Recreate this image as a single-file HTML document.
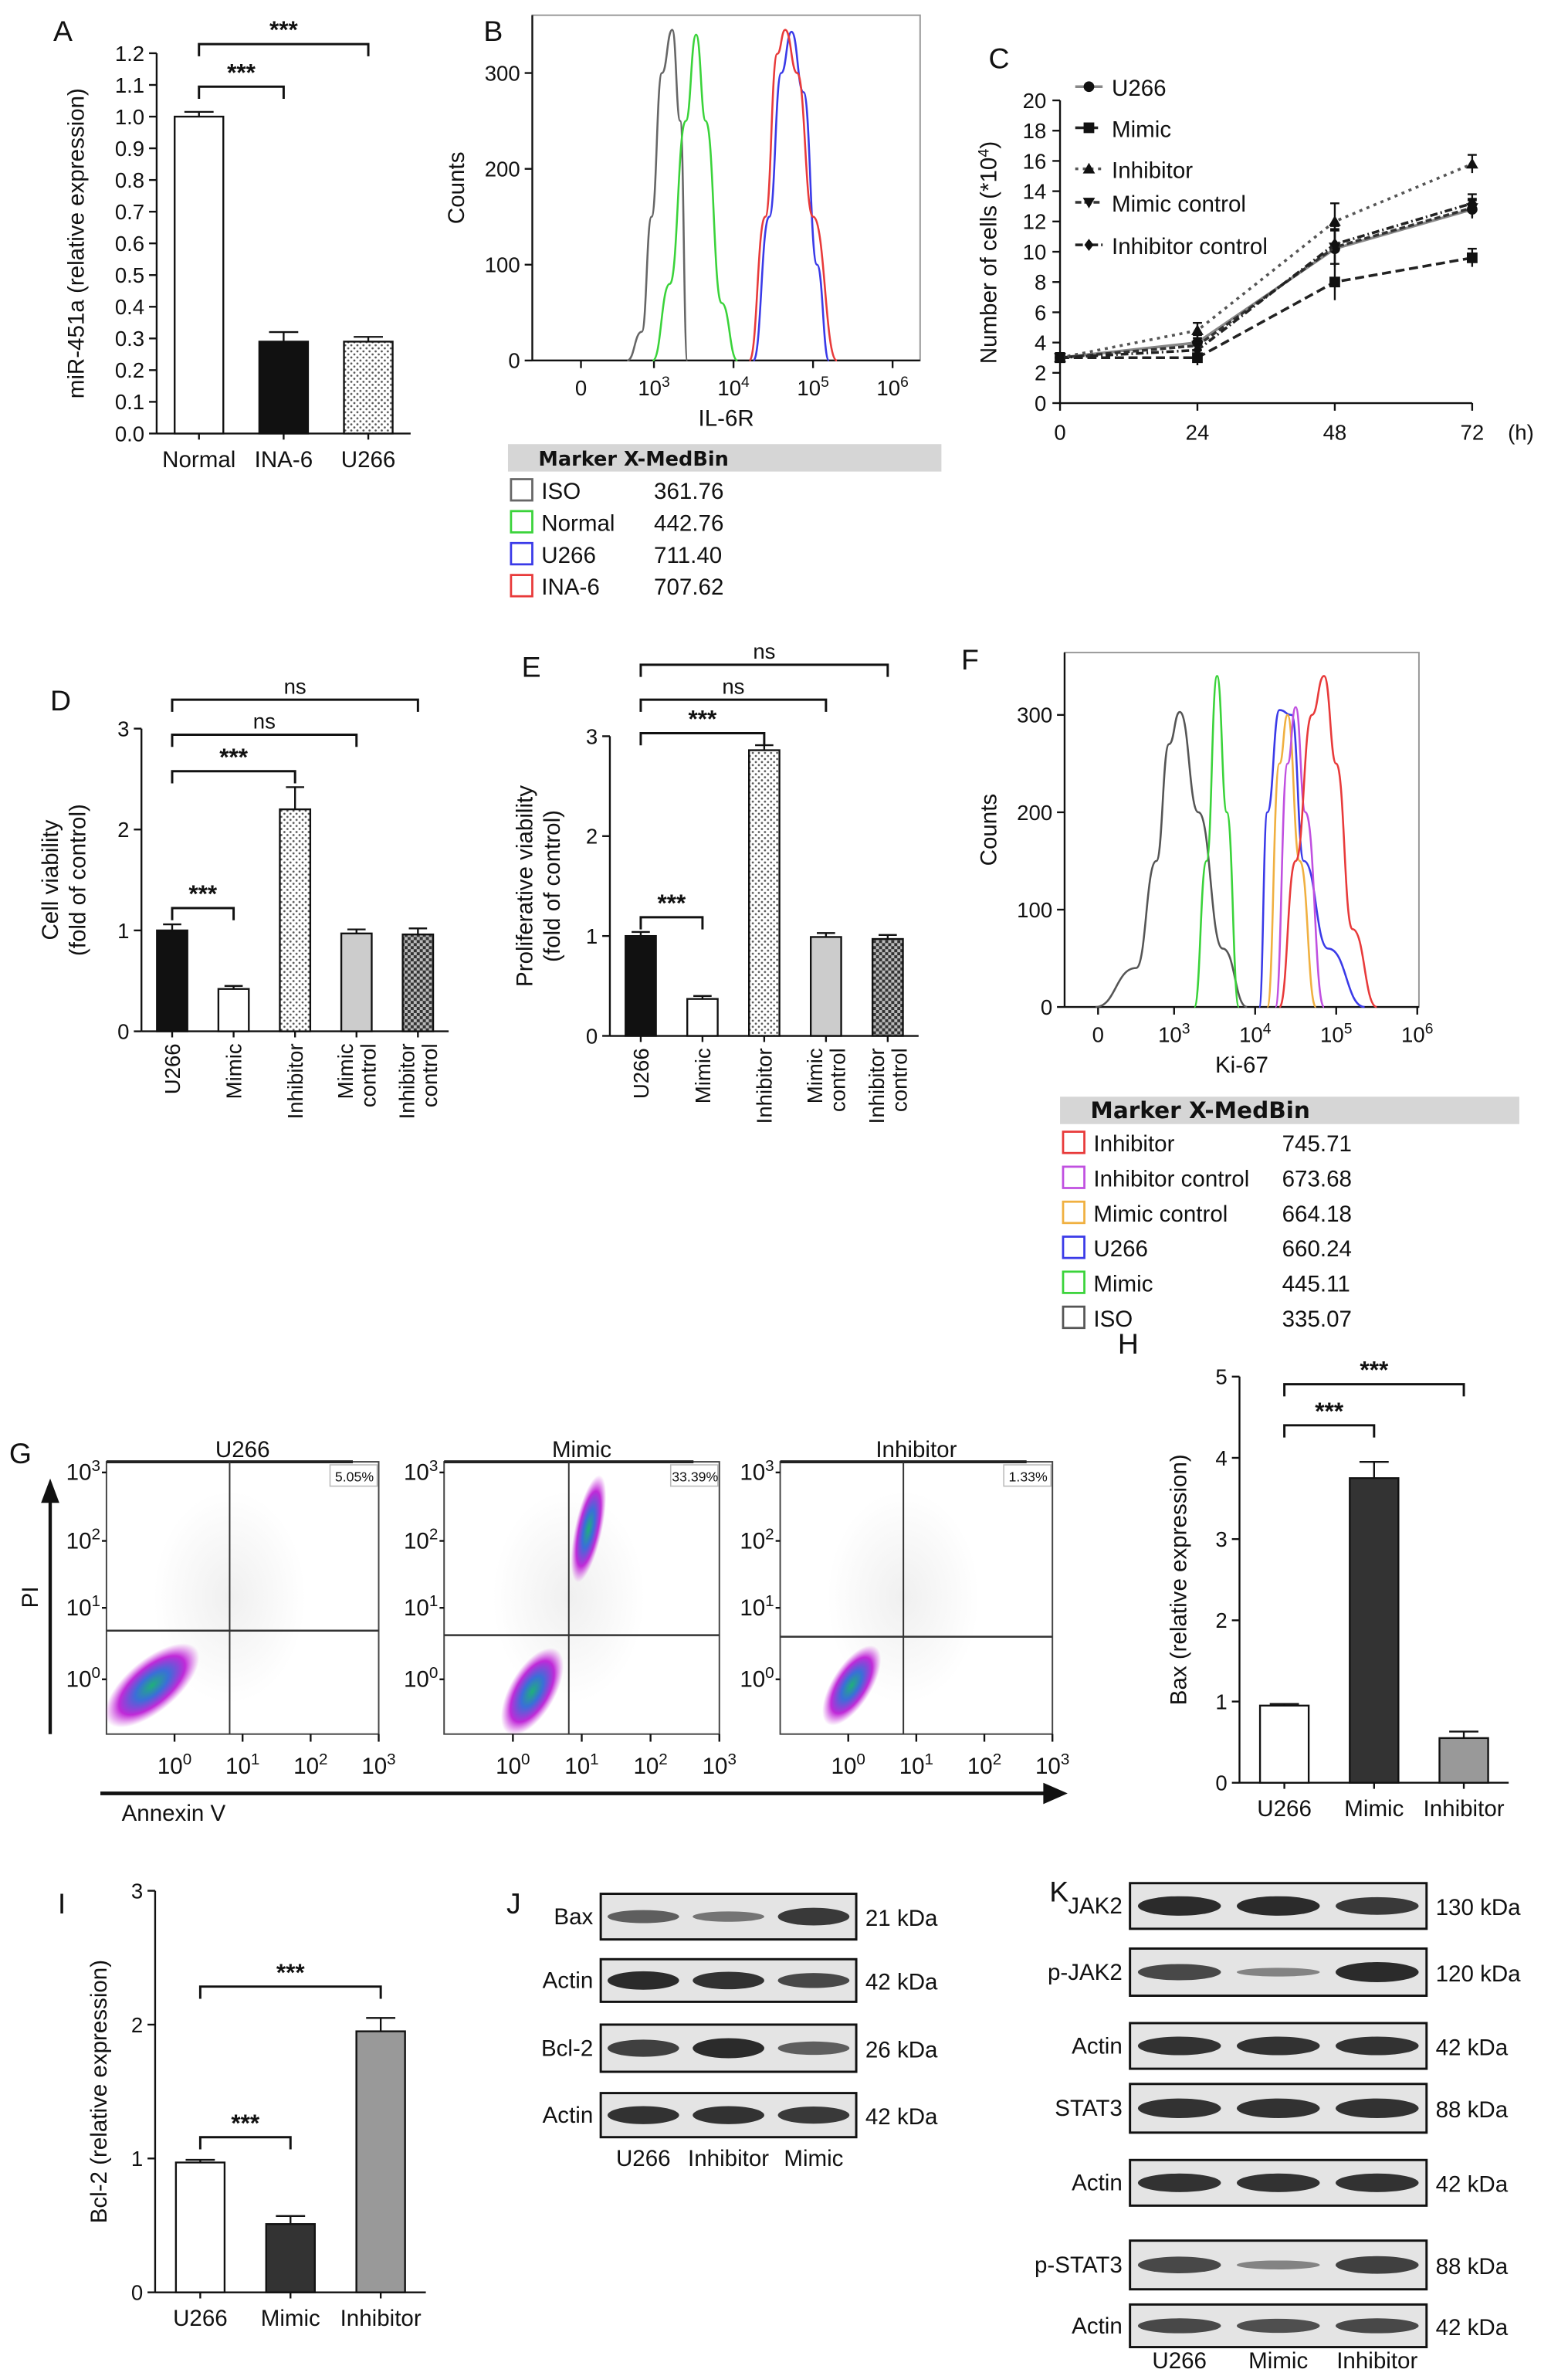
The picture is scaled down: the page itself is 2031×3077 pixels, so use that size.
<!DOCTYPE html>
<html><head><meta charset="utf-8">
<style>
html,body{margin:0;padding:0;background:#fff;}
svg{display:block;font-family:"Liberation Sans",Arial,sans-serif;}
</style></head>
<body>
<svg id="fig" width="2031" height="3077" viewBox="0 0 1031 1562" xmlns="http://www.w3.org/2000/svg">
<defs>
<pattern id="dots" width="4" height="4" patternUnits="userSpaceOnUse"><rect width="4" height="4" fill="#fff"/><circle cx="1" cy="1" r="0.7" fill="#555"/><circle cx="3" cy="3" r="0.7" fill="#555"/></pattern>
<pattern id="check" width="4" height="4" patternUnits="userSpaceOnUse"><rect width="4" height="4" fill="#bbb"/><rect width="2" height="2" fill="#333"/><rect x="2" y="2" width="2" height="2" fill="#333"/></pattern>
<radialGradient id="blob"><stop offset="0" stop-color="#1fb07a"/><stop offset="0.35" stop-color="#3a6fd8"/><stop offset="0.7" stop-color="#c02ad8"/><stop offset="1" stop-color="#d050e0" stop-opacity="0"/></radialGradient>
<radialGradient id="haze"><stop offset="0" stop-color="#999" stop-opacity="0.15"/><stop offset="1" stop-color="#999" stop-opacity="0"/></radialGradient>
</defs>
</svg>
<script>
// ---------- DATA ----------
const catsA=['Normal','INA-6','U266'];
const valsA=[1.0,0.29,0.29];
const errsA=[0.015,0.03,0.015];
const ticksA=[0,0.1,0.2,0.3,0.4,0.5,0.6,0.7,0.8,0.9,1.0,1.1,1.2];

const catsD=['U266','Mimic','Inhibitor','Mimic control','Inhibitor control'];
const valsD=[1.0,0.42,2.2,0.97,0.96];
const errsD=[0.06,0.03,0.22,0.04,0.06];
const valsE=[1.0,0.37,2.86,0.99,0.97];
const errsE=[0.04,0.03,0.05,0.04,0.04];
const ticks3=[0,1,2,3];

const catsH=['U266','Mimic','Inhibitor'];
const valsH=[0.95,3.75,0.55];
const errsH=[0.02,0.2,0.08];
const ticksH=[0,1,2,3,4,5];
const valsI=[0.97,0.51,1.95];
const errsI=[0.02,0.06,0.1];

const timeC=[0,24,48,72];
const namesC=['U266','Mimic','Inhibitor','Mimic control','Inhibitor control'];
const u266C=[3,4,10.2,12.8];
const mimicC=[3,3,8,9.6];
const inhibC=[3,4.8,12,15.8];
const mimicCtrlC=[3,3.8,10.3,12.9];
const inhibCtrlC=[3,3.5,10.5,13.2];
const errC=[0.3,0.5,1.2,0.6];
const ticksCy=[0,2,4,6,8,10,12,14,16,18,20];

const histBnames=['ISO','Normal','U266','INA-6'];
const histBvals=['361.76','442.76','711.40','707.62'];
const isoB=[[1.9,0],[2.5,30],[2.9,150],[3.1,300],[3.23,345],[3.33,250],[3.42,0]];
const normalB=[[2.95,0],[3.2,80],[3.4,250],[3.53,340],[3.65,250],[3.85,60],[4.05,0]];
const u266B=[[4.25,0],[4.45,150],[4.6,300],[4.73,343],[4.88,280],[5.05,100],[5.2,0]];
const ina6B=[[4.2,0],[4.4,150],[4.55,320],[4.65,345],[4.8,300],[5.0,150],[5.3,0]];

const histFvals=['745.71','673.68','664.18','660.24','445.11','335.07'];
const isoF=[[-0.1,0],[1.5,40],[2.3,150],[2.8,270],[3.07,303],[3.3,200],[3.6,60],[3.9,0]];
const mimicF=[[3.25,0],[3.4,150],[3.53,340],[3.65,200],[3.8,0]];
const u266F=[[4.05,0],[4.15,200],[4.3,305],[4.45,300],[4.6,150],[4.9,60],[5.35,0]];
const mimicCtrlF=[[4.15,0],[4.3,250],[4.4,300],[4.55,150],[4.75,0]];
const inhibCtrlF=[[4.25,0],[4.4,250],[4.5,308],[4.62,200],[4.85,0]];
const inhibF=[[4.3,0],[4.5,150],[4.7,300],[4.85,340],[5.0,250],[5.2,80],[5.5,0]];

const scatterTitles=['U266','Mimic','Inhibitor'];
const scatterPct=['5.05%','33.39%','1.33%'];

const blotJrows=['Bax','Actin','Bcl-2','Actin'];
const blotJkda=['21 kDa','42 kDa','26 kDa','42 kDa'];
const blotJlanes=['U266','Inhibitor','Mimic'];
const blotJint=[[0.55,0.4,0.8],[0.9,0.85,0.7],[0.75,0.9,0.55],[0.85,0.85,0.8]];
const blotKrows=['JAK2','p-JAK2','Actin','STAT3','Actin','p-STAT3','Actin'];
const blotKkda=['130 kDa','120 kDa','42 kDa','88 kDa','42 kDa','88 kDa','42 kDa'];
const blotKlanes=['U266','Mimic','Inhibitor'];
const blotKint=[[0.9,0.9,0.8],[0.7,0.3,0.9],[0.85,0.85,0.85],[0.85,0.85,0.85],[0.85,0.85,0.85],[0.7,0.3,0.75],[0.7,0.65,0.7]];

// ---------- HELPERS ----------
const NS='http://www.w3.org/2000/svg';
const svg=document.getElementById('fig');
function mk(tag,name,parent){
  const e=document.createElementNS(NS,tag);
  
  
  (parent||svg).appendChild(e);
  return e;
}
function set(e,o){for(const k in o)e.setAttribute(k,o[k]);return e;}
function txt(name,x,y,s,size,anchor,parent,extra){
  const t=mk('text',name,parent);
  set(t,{x:x,y:y,'font-size':size||14,'text-anchor':anchor||'middle',fill:'#111'});
  if(extra)set(t,extra);
  t.textContent=s;return t;
}
function line(name,x1,y1,x2,y2,parent,stroke,w,dash){
  const l=mk('line',name,parent);
  set(l,{x1:x1,y1:y1,x2:x2,y2:y2,stroke:stroke||'#111','stroke-width':w||1.2});
  if(dash)l.setAttribute('stroke-dasharray',dash);
  return l;
}
function sup(name,x,y,base,exp,size,anchor,parent){
  const t=mk('text',name,parent);
  set(t,{x:x,y:y,'font-size':size,'text-anchor':anchor||'middle',fill:'#111'});
  const a=document.createElementNS(NS,'tspan');a.textContent=base;t.appendChild(a);
  const b=document.createElementNS(NS,'tspan');set(b,{dy:-size*0.4,'font-size':size*0.7});b.textContent=exp;t.appendChild(b);
  return t;
}
function linScale(d0,d1,r0,r1){return v=>r0+(v-d0)/(d1-d0)*(r1-r0);}
function bandCenters(n,x0,x1){const s=(x1-x0)/n;return i=>x0+s*(i+0.5);}

function barChart(c){
  const g=mk('g',c.name);
  const y=linScale(0,c.ymax,c.yb,c.yt);
  const bx=bandCenters(c.cats.length,c.x0,c.x1);
  line('y-axis',c.x0,c.yb,c.x0,y(c.ymax),g);
  line('x-axis',c.x0,c.yb,c.x1,c.yb,g);
  c.ticks.forEach(t=>{
    line('y-tick',c.x0-5,y(t),c.x0,y(t),g);
    txt('y-tick-label',c.x0-8,y(t)+5,c.tickFmt?c.tickFmt(t):String(t),14,'end',g);
  });
  c.vals.forEach((v,i)=>{
    const cx=bx(i);
    const r=mk('rect','bar-'+c.cats[i].toLowerCase().replace(/\s+/g,'-'),g);
    set(r,{x:cx-c.bw/2,y:y(v),width:c.bw,height:c.yb-y(v),fill:c.fills[i],stroke:'#111','stroke-width':1.2});
    const e=c.errs[i];
    line('error-bar',cx,y(v),cx,y(v+e),g);
    line('error-cap',cx-c.bw*0.3,y(v+e),cx+c.bw*0.3,y(v+e),g);
    line('x-tick',cx,c.yb,cx,c.yb+4,g);
    if(c.rot){
      const parts=c.cats[i].split(' ');
      parts.forEach((p,k)=>{
        const off=(k-(parts.length-1)/2)*15;
        txt('x-tick-label',cx+off+5,c.yb+8,p,14,'end',g,{transform:'rotate(-90 '+(cx+off+5)+' '+(c.yb+8)+')'});
      });
    } else txt('x-tick-label',cx,c.yb+22,c.cats[i],15,'middle',g);
  });
  const ly=(c.yb+y(c.ymax))/2;
  c.ylabel.forEach((s,k)=>{
    const lx=c.lx+k*18;
    txt('y-axis-title',lx,ly,s,15,'middle',g,{transform:'rotate(-90 '+lx+' '+ly+')'});
  });
  (c.sig||[]).forEach(sg=>{
    const a=bx(sg[0]),b=bx(sg[1]),yy=sg[2];
    const p=mk('path','significance-bracket',g);
    set(p,{d:'M'+a+' '+(yy+8)+'V'+yy+'H'+b+'V'+(yy+8),fill:'none',stroke:'#111','stroke-width':1.5});
    txt('significance-label',(a+b)/2,yy-4,sg[3],sg[3]==='ns'?14:16,'middle',g,{'font-weight':sg[3]==='ns'?'normal':'bold'});
  });
  txt('panel-label',c.px,c.py,c.panel,19,'start',g);
}

barChart({name:'panel-a',panel:'A',px:35,py:27,x0:103,x1:270,yb:285,yt:35,ymax:1.2,ticks:ticksA,tickFmt:t=>t.toFixed(1),
  cats:catsA,vals:valsA,errs:errsA,bw:32,fills:['#fff','#111','url(#dots)'],ylabel:['miR-451a (relative expression)'],lx:55,
  sig:[[0,1,57,'***'],[0,2,29,'***']]});
barChart({name:'panel-d',panel:'D',px:33,py:467,x0:93,x1:295,yb:678,yt:479,ymax:3,ticks:ticks3,cats:catsD,vals:valsD,errs:errsD,bw:20,
  fills:['#111','#fff','url(#dots)','#ccc','url(#check)'],rot:true,ylabel:['Cell viability','(fold of control)'],lx:38,
  sig:[[0,1,597,'***'],[0,2,507,'***'],[0,3,483,'ns'],[0,4,460,'ns']]});
barChart({name:'panel-e',panel:'E',px:343,py:445,x0:401,x1:604,yb:681,yt:484,ymax:3,ticks:ticks3,cats:catsD,vals:valsE,errs:errsE,bw:20,
  fills:['#111','#fff','url(#dots)','#ccc','url(#check)'],rot:true,ylabel:['Proliferative viability','(fold of control)'],lx:350,
  sig:[[0,1,603,'***'],[0,2,482,'***'],[0,3,460,'ns'],[0,4,437,'ns']]});
barChart({name:'panel-h',panel:'H',px:735,py:890,x0:815,x1:992,yb:1172,yt:905,ymax:5,ticks:ticksH,cats:catsH,vals:valsH,errs:errsH,bw:32,
  fills:['#fff','#333','#999'],ylabel:['Bax (relative expression)'],lx:780,
  sig:[[0,1,937,'***'],[0,2,910,'***']]});
barChart({name:'panel-i',panel:'I',px:38,py:1258,x0:102,x1:280,yb:1507,yt:1243,ymax:3,ticks:ticks3,cats:catsH,vals:valsI,errs:errsI,bw:32,
  fills:['#fff','#333','#999'],ylabel:['Bcl-2 (relative expression)'],lx:70,
  sig:[[0,1,1405,'***'],[0,2,1306,'***']]});

// ---------- C ----------
(function(){
  const g=mk('g','panel-c');
  const x=linScale(0,72,697,968), y=linScale(0,20,265,66);
  line('y-axis',697,265,697,66,g);line('x-axis',697,265,968,265,g);
  ticksCy.forEach(t=>{line('y-tick',692,y(t),697,y(t),g);txt('y-tick-label',688,y(t)+5,String(t),14,'end',g);});
  timeC.forEach(t=>{line('x-tick',x(t),265,x(t),270,g);txt('x-tick-label',x(t),289,String(t),14,'middle',g);});
  txt('x-unit',1000,289,'(h)',14,'middle',g);
  const ly=166;
  const yt=txt('y-axis-title',655,ly,'Number of cells (*10',15,'middle',g,{transform:'rotate(-90 655 '+ly+')'});
  const s1=document.createElementNS(NS,'tspan');set(s1,{dy:-5,'font-size':10});s1.textContent='4';yt.appendChild(s1);
  const s2=document.createElementNS(NS,'tspan');set(s2,{dy:5});s2.textContent=')';yt.appendChild(s2);
  txt('panel-label',650,45,'C',19,'start',g);
  const series=[u266C,mimicC,inhibC,mimicCtrlC,inhibCtrlC];
  const dashes=['', '6 3','2 3','4 2','5 2 1 2'];
  const cols=['#888','#222','#555','#333','#222'];
  const markers=['circle','square','triUp','triDown','diamond'];
  function marker(kind,cx,cy,par,name){
    let m;
    if(kind==='circle'){m=mk('circle',name,par);set(m,{cx:cx,cy:cy,r:3.5});}
    else if(kind==='square'){m=mk('rect',name,par);set(m,{x:cx-3.5,y:cy-3.5,width:7,height:7});}
    else{m=mk('polygon',name,par);
      const pts=kind==='triUp'?[[0,-4],[4,3],[-4,3]]:kind==='triDown'?[[0,4],[4,-3],[-4,-3]]:[[0,-4],[3,0],[0,4],[-3,0]];
      m.setAttribute('points',pts.map(p=>(cx+p[0])+','+(cy+p[1])).join(' '));}
    m.setAttribute('fill','#111');return m;
  }
  series.forEach((s,i)=>{
    const p=mk('polyline','line-'+namesC[i].toLowerCase().replace(/\s+/g,'-'),g);
    set(p,{points:s.map((v,j)=>x(timeC[j])+','+y(v)).join(' '),fill:'none',stroke:cols[i],'stroke-width':1.8});
    if(dashes[i])p.setAttribute('stroke-dasharray',dashes[i]);
    s.forEach((v,j)=>{
      line('error-bar',x(timeC[j]),y(v-errC[j]),x(timeC[j]),y(v+errC[j]),g,'#111',1.2);
      line('error-cap',x(timeC[j])-3,y(v+errC[j]),x(timeC[j])+3,y(v+errC[j]),g,'#111',1.2);
      marker(markers[i],x(timeC[j]),y(v),g,'point');
    });
    const ly2=[57,84,111,133,161][i];
    line('legend-line',707,ly2,725,ly2,g,cols[i],1.8,dashes[i]||null);
    marker(markers[i],716,ly2,g,'legend-marker');
    txt('legend-entry',731,ly2+6,namesC[i],15,'start',g);
  });
})();

// ---------- Histograms ----------
function histo(c){
  const g=mk('g',c.name);
  const xs=d=>d<=3?c.xz+(d/3)*(c.x3-c.xz):c.x3+(d-3)*c.dec;
  const y=linScale(0,300,c.yb,c.y300);
  const fr=mk('rect','plot-frame',g);set(fr,{x:c.fx0,y:c.fy0,width:c.fx1-c.fx0,height:c.yb-c.fy0,fill:'none',stroke:'#999','stroke-width':1});
  line('x-axis',c.fx0,c.yb,c.fx1,c.yb,g);line('y-axis',c.fx0,c.yb,c.fx0,c.fy0,g);
  [0,100,200,300].forEach(t=>{line('y-tick',c.fx0-5,y(t),c.fx0,y(t),g);txt('y-tick-label',c.fx0-8,y(t)+5,String(t),14,'end',g);});
  [0,3,4,5,6].forEach(d=>{line('x-tick',xs(d),c.yb,xs(d),c.yb+5,g);
    if(d===0)txt('x-tick-label',xs(d),c.yb+23,'0',14,'middle',g);else sup('x-tick-label',xs(d),c.yb+23,'10',String(d),14,'middle',g);});
  txt('x-axis-title',(c.fx0+c.fx1)/2,c.yb+43,c.xlabel,15,'middle',g);
  const ly=(c.yb+c.fy0)/2;
  txt('y-axis-title',c.fx0-45,ly,'Counts',15,'middle',g,{transform:'rotate(-90 '+(c.fx0-45)+' '+ly+')'});
  c.curves.forEach((cv,i)=>{
    const pts=cv.map(p=>[xs(p[0]),y(p[1])]);
    let d='M'+pts[0][0]+' '+pts[0][1];
    for(let k=1;k<pts.length;k++){const a=pts[k-1],b=pts[k],mx=(a[0]+b[0])/2;d+=' C'+mx+' '+a[1]+' '+mx+' '+b[1]+' '+b[0]+' '+b[1];}
    const p=mk('path','histogram-'+c.names[i].toLowerCase().replace(/\s+/g,'-'),g);
    set(p,{d:d,fill:'none',stroke:c.colors[i],'stroke-width':1.3});
  });
  const hd=mk('rect','legend-header',g);set(hd,{x:c.lx,y:c.ly,width:c.lw,height:18,fill:'#d6d6d6'});
  txt('legend-title',c.lx+20,c.ly+14,'Marker X-MedBin',c.hsize,'start',g,{'font-weight':'bold','font-family':'DejaVu Sans, sans-serif'});
  c.names.forEach((n,i)=>{
    const idx=c.order[i];
    const yy=c.ly+20+i*c.lstep;
    const b=mk('rect','legend-swatch',g);set(b,{x:c.lx+2,y:yy+3,width:14,height:14,fill:'none',stroke:c.colors[idx],'stroke-width':1.4});
    txt('legend-entry',c.lx+22,yy+16,c.names[idx],15,'start',g);
    txt('legend-value',c.lx+c.vx,yy+16,c.vals[i],15,'start',g);
  });
  txt('panel-label',c.px,c.py,c.panel,19,'start',g);
}
histo({name:'panel-b',panel:'B',px:318,py:27,xz:382,x3:430,dec:52.3,yb:237,y300:48,fx0:350,fx1:605,fy0:10,xlabel:'IL-6R',
  curves:[isoB,normalB,u266B,ina6B],names:histBnames,colors:['#666','#3ad33a','#3a3ae8','#e83a3a'],order:[0,1,2,3],vals:histBvals,
  lx:334,ly:292,lw:285,lstep:21,vx:96,hsize:13});
histo({name:'panel-f',panel:'F',px:632,py:440,xz:722,x3:772,dec:53.3,yb:662,y300:470,fx0:700,fx1:933,fy0:429,xlabel:'Ki-67',
  curves:[isoF,mimicF,u266F,mimicCtrlF,inhibCtrlF,inhibF],names:['ISO','Mimic','U266','Mimic control','Inhibitor control','Inhibitor'],
  colors:['#555','#3ad33a','#3a3ae8','#f0b040','#c050e0','#e83a3a'],order:[5,4,3,2,1,0],vals:histFvals,
  lx:697,ly:721,lw:302,lstep:23,vx:146,hsize:15});

// ---------- G scatter ----------
(function(){
  const g=mk('g','panel-g');
  txt('panel-label',6,962,'G',19,'start',g);
  const boxes=[[70,249,151,1072],[292,473,374,1075],[513,692,594,1076]];
  const yTickY=[1104,1057,1013,968];
  boxes.forEach((b,i)=>{
    const sg=mk('g','scatter-plot-'+scatterTitles[i].toLowerCase(),g);
    const x=linScale(0,3,b[0]+(b[1]-b[0])*0.25,b[1]);
    const r=mk('rect','plot-frame',sg);set(r,{x:b[0],y:961,width:b[1]-b[0],height:179,fill:'#fff',stroke:'#444','stroke-width':1});
    line('top-border',b[0],961,b[1]-17,961,sg,'#222',2);
    txt('plot-title',(b[0]+b[1])/2,958,scatterTitles[i],15,'middle',sg);
    const pb=mk('rect','quadrant-percent-box',sg);set(pb,{x:b[1]-32,y:963,width:31,height:14,fill:'#fff',stroke:'#bbb','stroke-width':0.8});
    txt('quadrant-percent',b[1]-16,974,scatterPct[i],9,'middle',sg);
    const hz=mk('ellipse','background-events',sg);set(hz,{cx:b[2],cy:1050,rx:50,ry:70,fill:'url(#haze)'});
    const bl=i===0?[[100,1108,38,17,-40]]:i===1?[[350,1112,32,15,-60],[387,1005,36,9,-78]]:[[560,1108,30,13,-58]];
    bl.forEach(e=>{const el=mk('ellipse','cell-population',sg);set(el,{cx:e[0],cy:e[1],rx:e[2],ry:e[3],fill:'url(#blob)',transform:'rotate('+e[4]+' '+e[0]+' '+e[1]+')'});});
    line('quadrant-vertical',b[2],961,b[2],1140,sg,'#333',1);
    line('quadrant-horizontal',b[0],b[3],b[1],b[3],sg,'#333',1.3);
    [0,1,2,3].forEach(d=>{
      sup('x-tick-label',x(d),1166,'10',String(d),15,'middle',sg);
      line('x-tick',x(d),1140,x(d),1145,sg);
      sup('y-tick-label',b[0]-4,yTickY[d]+5,'10',String(d),15,'end',sg);
      line('y-tick',b[0]-3,yTickY[d],b[0],yTickY[d],sg);
    });
  });
  line('pi-arrow',33,1140,33,985,g,'#111',2.2);
  const ah=mk('polygon','pi-arrowhead',g);set(ah,{points:'27,988 33,972 39,988',fill:'#111'});
  txt('y-axis-title',25,1050,'PI',15,'middle',g,{transform:'rotate(-90 25 1050)'});
  line('annexin-arrow',66,1179,690,1179,g,'#111',2.4);
  const ah2=mk('polygon','annexin-arrowhead',g);set(ah2,{points:'686,1172 702,1179 686,1186',fill:'#111'});
  txt('x-axis-title',80,1197,'Annexin V',15,'start',g);
})();

// ---------- Blots ----------
function blot(c){
  const g=mk('g',c.name);
  txt('panel-label',c.px,c.py,c.panel,19,'start',g);
  c.rows.forEach((r,i)=>{
    const y0=c.rowY[i],h=c.rowH[i];
    const bx=mk('rect','blot-box-'+r.toLowerCase(),g);set(bx,{x:c.x0,y:y0,width:c.x1-c.x0,height:h,fill:'#e4e4e4',stroke:'#111','stroke-width':1.5});
    txt('blot-label',c.x0-5,y0+h/2+5,r,15,'end',g);
    txt('kda-label',c.x1+6,y0+h/2+6,c.kda[i],15,'start',g);
    const lw=(c.x1-c.x0)/3;
    c.int[i].forEach((v,k)=>{
      const cx=c.x0+lw*(k+0.5);
      const e=mk('ellipse','band',g);
      set(e,{cx:cx,cy:y0+h/2,rx:lw*0.42,ry:Math.max(2,h*0.2*v+1),fill:'#111','fill-opacity':0.25+0.7*v});
    });
  });
  const lw=(c.x1-c.x0)/3;
  c.lanes.forEach((l,k)=>txt('lane-label',c.x0+lw*(k+0.5),c.laneY,l,15,'middle',g));
}
blot({name:'panel-j',panel:'J',px:333,py:1258,x0:395,x1:563,rows:blotJrows,kda:blotJkda,int:blotJint,lanes:blotJlanes,
  rowY:[1245,1288,1331,1376],rowH:[30,28,31,29],laneY:1424});
blot({name:'panel-k',panel:'K',px:690,py:1250,x0:743,x1:938,rows:blotKrows,kda:blotKkda,int:blotKint,lanes:blotKlanes,
  rowY:[1238,1281,1330,1370,1420,1473,1515],rowH:[30,31,30,32,30,32,28],laneY:1557});
</script>
</body></html>
